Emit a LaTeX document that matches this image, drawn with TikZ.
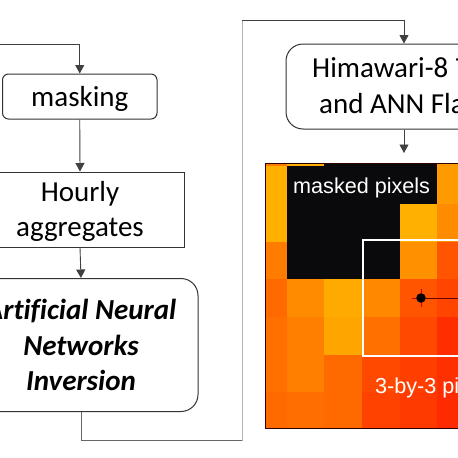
\documentclass[tikz,border=0pt]{standalone}
\usepackage{fontspec}
\setmainfont{Carlito}[Ligatures=NoCommon]
\newfontfamily\mapfont{Liberation Sans}
\usetikzlibrary{arrows.meta}
\definecolor{maskblack}{HTML}{0A0A0C}
\begin{document}
\begin{tikzpicture}[
    x=1pt, y=-1pt,
    % box styles
    base box/.style={draw=black!80, line width=1pt, fill=white, inner sep=0pt, align=center, font=\fontsize{29}{35.6}\selectfont},
    round box/.style={base box, rounded corners=6pt},
    big round box/.style={base box, rounded corners=17pt},
    map label/.style={inner sep=0pt, anchor=base west, text=white, font=\mapfont\fontsize{21.6}{24}\selectfont},
    box label/.style={inner sep=0pt, anchor=base west, font=\fontsize{29}{35.6}\selectfont},
    % connector styles
    flow edge/.style={draw=black!75, line width=0.9pt, -{Triangle[length=8.5pt,width=9pt]}},
    loop edge/.style={draw=black!60, line width=0.8pt},
    loop side/.style={draw=black!30, line width=0.9pt}
]
\useasboundingbox (0,0) rectangle (458,458);
\clip (0,0) rectangle (458,458);

% Heat map cells: one row per line
\fill[maskblack] (266,163) rectangle (475,428);
\foreach \ya/\yb/\cA/\cB/\cC/\cD/\cE/\cF in {
    163/166/FF7A00/FFB000/0A0A0C/0A0A0C/0A0A0C/FF9A00,
    166/204/FFB000/0A0A0C/0A0A0C/0A0A0C/0A0A0C/FF9A00,
    204/242/FFB000/0A0A0C/0A0A0C/0A0A0C/FFB000/FF8C00,
    242/279/FF7C00/0A0A0C/0A0A0C/0A0A0C/FF9000/FF5500,
    279/317/FF6A00/FF8C00/FFAA00/FF8800/FF5500/FF4500,
    317/355/FF7000/FF8000/FFA500/FF7000/FF4800/FF2E00,
    355/392/FF7000/FF8000/FF6A00/FF4800/FF3E00/FF3000,
    392/428/FF6A00/FF6E00/FF6A00/FF4200/FF3A00/FF2A00
}{
    \foreach \xa/\xb/\cval in {266/287/\cA, 287/324/\cB, 324/362/\cC, 362/400/\cD, 400/437/\cE, 437/475/\cF}{
        \definecolor{cellcol}{HTML}{\cval}
        \fill[cellcol] (\xa,\ya) rectangle (\xb,\yb);
    }
}
\draw[draw=black!70!red!60!black, line width=1pt] (265.5,163) rectangle (480,428);

% Map overlay
\draw[white, line width=2pt] (362.5,240) rectangle (480,355.5);
\draw[red!80!black, line width=0.8pt] (421,289) -- (421,307) (412,298) -- (421,298);
\node[circle, fill=black, inner sep=0pt, minimum size=9.5pt] (dot) at (421,298) {};
\coordinate (dotend) at (458,298);
\draw[red!40!black, line width=1pt] (dot) -- (dotend);
\node[map label] (masked) at (293,193.5) {masked pixels};
\node[map label] (threeby) at (375,393) {3-by-3 pi};

% Left column
\node[round box, minimum width=154.5pt, minimum height=45pt, text depth=1pt] (masking) at (79.75,96.5) {masking};
\node[base box, minimum width=208pt, minimum height=75pt, text depth=1.5pt, font=\fontsize{29}{34.5}\selectfont] (hourly) at (80,209.5) {Hourly\\aggregates};
\node[big round box, minimum width=234pt, minimum height=133pt, font=\fontsize{29}{35.6}\selectfont\bfseries\itshape] (ann) at (81,345) {Artificial Neural\\Networks\\Inversion};

% Right box
\node[big round box, minimum width=236pt, minimum height=85pt] (him) at (404,86.5) {};
\node[box label] (himA) at (312,77) {Himawari-8\hspace{1pt} T};
\node[box label] (himB) at (319,113) {and ANN Fla};

% Connectors
\coordinate (feedin) at (0,44.5);
\coordinate (loopbot) at (242,440.5);
\coordinate (looptop) at (242,20.5);
\coordinate (mapin) at (404,153);
\draw[flow edge] (feedin) -| (masking.north);
\draw[flow edge] (masking.south) -- (hourly.north);
\draw[flow edge] (hourly.south) -- (ann.north);
\draw[loop edge] (ann.south) |- (loopbot);
\draw[loop side] (loopbot) -- (looptop);
\draw[flow edge] (looptop) -| (him.north);
\draw[flow edge] (him.south) -- (mapin);

\end{tikzpicture}
\end{document}
